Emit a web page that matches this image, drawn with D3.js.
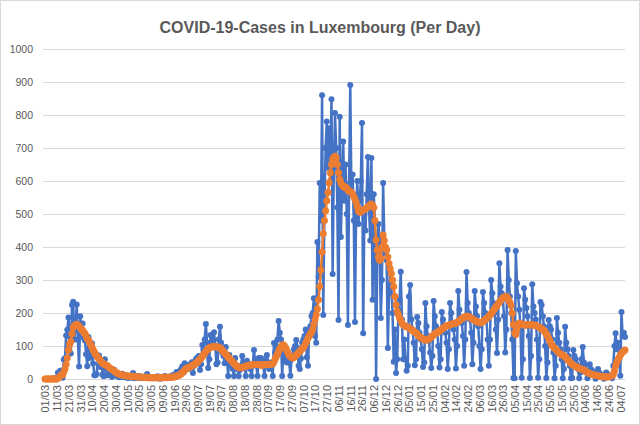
<!DOCTYPE html>
<html>
<head>
<meta charset="utf-8">
<script src="https://cdn.jsdelivr.net/npm/d3@7"></script>
<style>
  body { margin: 0; background: #fff; }
  text { font-family: 'Liberation Sans', Arial, sans-serif; fill: #595959; }
  .title { font-size: 16px; font-weight: bold; }
  .y-label { font-size: 10.5px; }
  .x-label { font-size: 11px; }
</style>
</head>
<body>
<svg width="640" height="425"></svg>
<script>
// one value per day, starting 01/03/2020
const startLabel = '01/03/2020';

const dailyCases = [
  // Mar 2020
  0,0,0,0,0,0,1,1,2,1,2,19,12,25,26,4,59,63,132,149,186,128,77,224,234,120,152,226,119,38,190,
  // Apr
  141,168,125,117,75,39,127,64,81,108,47,11,11,15,66,71,36,57,13,8,60,36,11,30,16,12,6,12,28,15,
  // May
  10,8,5,6,12,16,5,7,10,4,3,8,4,10,18,2,5,6,3,9,4,3,2,3,4,10,15,2,5,3,6,
  // Jun
  2,3,5,2,8,3,1,4,6,3,9,4,2,5,3,8,5,12,6,10,21,8,15,25,30,39,20,48,33,42,
  // Jul
  30,40,45,51,18,40,55,63,60,70,27,45,103,90,120,167,110,33,60,133,100,120,142,100,45,50,120,158,110,80,70,
  // Aug
  48,97,60,9,73,50,40,30,9,64,40,30,9,27,40,70,50,40,9,55,40,35,30,9,45,88,50,40,9,64,55,
  // Sep
  64,50,40,9,60,73,45,30,50,40,9,109,80,90,120,176,140,120,9,90,76,60,50,80,50,10,60,70,90,100,
  // Oct
  118,95,40,30,62,110,120,130,150,66,40,145,160,190,200,245,130,110,415,310,594,480,860,194,520,700,780,640,760,600,848,
  // Nov
  318,640,806,700,520,179,795,430,600,720,540,650,500,164,590,891,560,620,480,173,520,600,470,540,600,776,139,500,450,560,
  // Dec
  673,520,420,670,240,560,480,0,380,470,420,185,300,594,420,380,360,94,260,330,280,200,52,150,18,60,210,240,325,180,60,
  // Jan 2021
  120,60,25,40,250,285,180,150,110,42,60,188,170,140,120,90,36,50,230,160,130,115,80,33,70,236,190,160,150,100,35,
  // Feb
  60,203,180,160,140,110,30,90,230,200,170,150,120,32,100,267,210,180,170,130,40,120,324,230,200,180,140,45,
  // Mar
  110,267,220,190,160,100,30,90,264,230,200,180,120,40,120,300,260,230,200,150,79,180,351,280,260,240,190,80,150,391,300,
  // Apr
  250,200,120,3,2,388,290,250,210,150,4,60,275,240,215,190,130,3,70,287,220,200,180,120,4,60,233,224,190,160,
  // May
  100,3,50,179,160,150,120,80,2,40,185,140,110,90,60,2,30,158,110,90,70,40,2,3,88,70,60,45,30,2,20,
  // Jun
  60,97,50,40,20,2,10,45,30,25,20,10,1,5,30,20,15,12,8,1,3,20,15,12,10,8,2,40,100,139,
  // Jul
  90,110,60,10,203,130,140,127
];

const weeklyAverage = [
  // Mar 2020
  0,0,0,0,0,0,0,0,0,0,0,3,5,9,12,13,21,30,45,64,88,105,114,137,155,161,163,166,164,160,156,
  // Apr
  150,148,142,138,130,122,118,112,104,96,88,82,76,70,66,62,57,52,48,46,44,42,40,37,34,31,29,27,24,21,
  // May
  19,17,15,14,13,12,11,10,10,9,9,8,8,8,8,7,7,7,6,6,6,5,5,5,5,5,5,4,4,4,4,
  // Jun
  4,4,4,4,4,4,4,4,4,4,5,5,5,5,5,5,5,6,6,7,9,10,11,13,16,20,23,27,30,33,
  // Jul
  34,35,37,40,42,44,46,49,52,56,60,64,68,73,78,84,88,92,94,96,97,98,98,98,97,97,96,94,91,87,83,
  // Aug
  79,75,71,67,63,59,55,51,47,43,40,37,35,34,34,35,36,38,39,40,41,42,42,43,43,44,44,44,44,44,44,
  // Sep
  42,42,43,43,44,44,45,44,44,45,46,52,60,68,76,84,92,98,102,104,100,94,86,78,72,68,65,64,66,70,
  // Oct
  72,76,80,84,88,92,95,100,108,116,124,130,136,142,150,165,180,195,212,240,280,330,385,440,480,510,540,565,595,625,650,
  // Nov
  665,672,675,670,650,625,605,595,588,584,580,582,578,572,570,568,566,560,552,545,535,522,510,505,506,510,512,514,516,518,
  // Dec
  522,525,528,530,526,520,480,421,390,370,360,365,400,436,420,400,391,370,350,335,320,300,280,250,225,205,195,185,178,170,165,
  // Jan 2021
  162,160,158,157,155,152,150,147,145,142,140,136,132,128,126,124,121,119,118,118,119,121,124,127,130,134,137,139,141,143,146,
  // Feb
  148,151,154,157,159,161,162,163,165,166,167,168,169,170,171,174,177,180,183,185,187,188,190,190,189,187,185,182,
  // Mar
  180,178,176,174,172,171,170,172,174,177,180,183,186,190,194,198,203,208,213,218,223,228,233,238,242,246,248,250,249,246,240,
  // Apr
  232,222,200,165,140,135,150,165,170,168,166,165,164,163,164,165,165,164,164,165,164,163,162,160,158,157,155,153,150,146,
  // May
  142,136,130,124,116,108,101,97,93,90,86,82,79,76,74,72,70,68,64,60,56,52,48,45,42,40,38,36,34,32,30,
  // Jun
  30,29,27,25,22,20,18,16,15,14,13,12,11,10,10,9,8,8,7,7,6,6,6,7,8,9,10,14,24,40,
  // Jul
  50,58,65,72,78,82,85,88
];

// a label every 10th day
const tickLabels = [
  '01/03','11/03','21/03','31/03','10/04','20/04','30/04','10/05','20/05','30/05',
  '09/06','19/06','29/06','09/07','19/07','29/07','08/08','18/08','28/08','07/09',
  '17/09','27/09','07/10','17/10','27/10','06/11','16/11','26/11','06/12','16/12',
  '26/12','05/01','15/01','25/01','04/02','14/02','24/02','06/03','16/03','26/03',
  '05/04','15/04','25/04','05/05','15/05','25/05','04/06','14/06','24/06','04/07'
];
const yTicks = [0, 100, 200, 300, 400, 500, 600, 700, 800, 900, 1000];

const svg = d3.select('svg');
const width = +svg.attr('width');
const height = +svg.attr('height');

const render = () => {
  const margin = { top: 49, right: 15, bottom: 46, left: 45 };
  const innerWidth = width - margin.left - margin.right;
  const innerHeight = height - margin.top - margin.bottom;

  svg.append('rect')
    .attr('x', 0.5).attr('y', 0.5)
    .attr('width', width - 1).attr('height', height - 1)
    .attr('fill', '#fff')
    .attr('stroke', '#d9d9d9');

  svg.append('text')
    .attr('class', 'title')
    .attr('x', width / 2)
    .attr('y', 33)
    .attr('text-anchor', 'middle')
    .text('COVID-19-Cases in Luxembourg (Per Day)');

  const xScale = d3.scaleLinear()
    .domain([0, dailyCases.length - 1])
    .range([0, innerWidth]);

  const yScale = d3.scaleLinear()
    .domain([0, 1000])
    .range([innerHeight, 0]);

  const g = svg.append('g')
    .attr('transform', `translate(${margin.left},${margin.top})`);

  // gridlines + y labels
  const yAxisG = g.append('g')
    .call(d3.axisLeft(yScale)
      .tickValues(yTicks)
      .tickFormat(d3.format('d'))
      .tickSize(-innerWidth - 2)
      .tickPadding(10))
    .attr('transform', 'translate(-2,0)');
  yAxisG.select('.domain').remove();
  yAxisG.selectAll('.tick line').attr('stroke', '#d9d9d9').attr('stroke-width', 1);
  yAxisG.selectAll('.tick text').attr('class', 'y-label').attr('fill', '#595959');

  const xAxis = d3.axisBottom(xScale)
    .tickValues(tickLabels.map((t, i) => i * 10))
    .tickFormat((d, i) => tickLabels[i])
    .tickSize(0);

  const xAxisG = g.append('g')
    .attr('transform', `translate(0,${innerHeight})`)
    .call(xAxis);
  xAxisG.select('.domain').attr('stroke', '#d9d9d9').attr('d', `M-2,0.5H${innerWidth}`);
  xAxisG.selectAll('.tick text')
    .attr('class', 'x-label')
    .attr('fill', '#595959')
    .attr('transform', 'rotate(-90)')
    .attr('text-anchor', 'end')
    .attr('x', -6)
    .attr('y', 0)
    .attr('dy', '0.35em');

  const line = d3.line()
    .x((d, i) => xScale(i))
    .y(d => yScale(d));

  const series = [
    { values: dailyCases, color: '#4472c4', r: 3 },
    { values: weeklyAverage, color: '#ed7d31', r: 3.5 }
  ];

  series.forEach(s => {
    g.append('path')
      .datum(s.values)
      .attr('fill', 'none')
      .attr('stroke', s.color)
      .attr('stroke-width', 2.5)
      .attr('stroke-linejoin', 'round')
      .attr('d', line);

    g.append('g').selectAll('circle').data(s.values)
      .enter().append('circle')
        .attr('cx', (d, i) => xScale(i))
        .attr('cy', d => yScale(d))
        .attr('r', s.r)
        .attr('fill', s.color);
  });
};

render();
</script>
</body>
</html>
